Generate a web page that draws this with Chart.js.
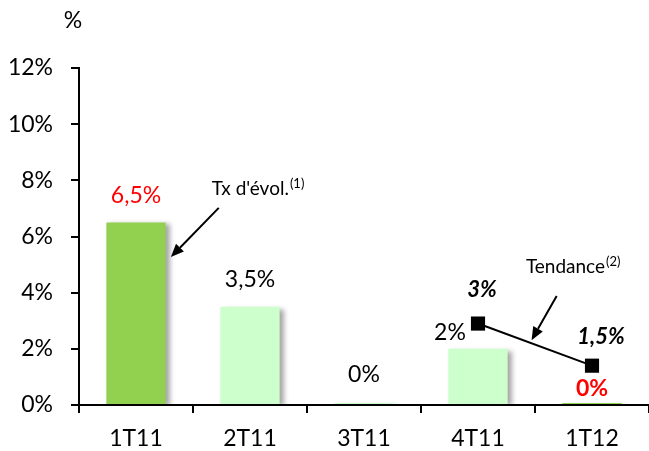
<!DOCTYPE html>
<html>
<head>
<meta charset="utf-8">
<script src="https://cdn.jsdelivr.net/npm/chart.js@4/dist/chart.umd.min.js"></script>
<style>
  html, body { margin: 0; padding: 0; background: #fff; }
  #wrap { width: 649px; height: 451px; position: relative; }
</style>
</head>
<body>
<div id="wrap"><canvas id="chart"></canvas></div>
<script>
// Data
const quarters = ['1T11', '2T11', '3T11', '4T11', '1T12'];
const growthRates = [6.5, 3.5, 0, 2, 0];
const growthLabels = ['6,5%', '3,5%', '0%', '2%', '0%'];
const trendValues = [null, null, null, 2.9, 1.4];
const trendLabels = ['', '', '', '3%', '1,5%'];
const yTicks = [0, 2, 4, 6, 8, 10, 12];

// Styles
const FONT = 'Lato, "Open Sans", sans-serif';
const barColors = ['#92D050', '#CCFFCC', '#CCFFCC', '#CCFFCC', '#92D050'];
const barLabelColors = ['#FF0000', '#000', '#000', '#000', '#FF0000'];
const barLabelBold = [false, false, false, false, true];
// offsets (px) of each bar label from the top of its bar
const barLabelOffsets = [[0, -27], [0, -27], [0, -28], [-28, -16], [0, -14]];
const trendLabelOffsets = [null, null, null, [4, -34], [9, -29]];

// Callouts, positions in scale units (category index, %)
const callouts = [
  { text: "Tx d'évol.", sup: '(1)', at: [0.665, 7.48], tail: [0.726, 7.02], tip: [0.306, 5.27] },
  { text: 'Tendance', sup: '(2)', at: [3.42, 4.70], tail: [3.69, 3.88], tip: [3.47, 2.31] }
];

// drop shadow behind the bars
const barShadow = {
  id: 'barShadow',
  beforeDatasetDraw(chart, args) {
    if (args.index !== 0) return;
    const ctx = chart.ctx;
    ctx.save();
    ctx.shadowColor = 'rgba(0,0,0,0.35)';
    ctx.shadowOffsetX = 4;
    ctx.shadowOffsetY = 2;
    ctx.shadowBlur = 5;
  },
  afterDatasetDraw(chart, args) {
    if (args.index !== 0) return;
    chart.ctx.restore();
  }
};

function drawArrow(ctx, x1, y1, x2, y2) {
  const ang = Math.atan2(y2 - y1, x2 - x1);
  const head = 13, half = 5.5;
  const bx = x2 - head * Math.cos(ang), by = y2 - head * Math.sin(ang);
  ctx.beginPath();
  ctx.moveTo(x1, y1);
  ctx.lineTo(bx, by);
  ctx.lineWidth = 2;
  ctx.strokeStyle = '#000';
  ctx.stroke();
  ctx.beginPath();
  ctx.moveTo(x2, y2);
  ctx.lineTo(bx + half * Math.sin(ang), by - half * Math.cos(ang));
  ctx.lineTo(bx - half * Math.sin(ang), by + half * Math.cos(ang));
  ctx.closePath();
  ctx.fillStyle = '#000';
  ctx.fill();
}

const labelsPlugin = {
  id: 'labels',
  afterDatasetsDraw(chart) {
    const ctx = chart.ctx;
    const xs = chart.scales.x, ys = chart.scales.y;
    ctx.save();
    ctx.textAlign = 'center';
    ctx.textBaseline = 'middle';

    // bar values
    chart.getDatasetMeta(0).data.forEach((bar, i) => {
      const off = barLabelOffsets[i];
      ctx.font = (barLabelBold[i] ? 'bold ' : '') + '23px ' + FONT;
      ctx.fillStyle = barLabelColors[i];
      ctx.fillText(growthLabels[i], bar.x + off[0], bar.y + off[1]);
    });

    // trend values
    chart.getDatasetMeta(1).data.forEach((pt, i) => {
      if (!trendLabels[i]) return;
      const off = trendLabelOffsets[i];
      ctx.font = 'italic bold 22px ' + FONT;
      ctx.fillStyle = '#000';
      ctx.fillText(trendLabels[i], pt.x + off[0], pt.y + off[1]);
    });

    // callouts
    callouts.forEach(c => {
      const px = v => xs.getPixelForValue(v);
      const py = v => ys.getPixelForValue(v);
      ctx.textAlign = 'left';
      ctx.textBaseline = 'alphabetic';
      ctx.fillStyle = '#000';
      ctx.font = '19px ' + FONT;
      const x0 = px(c.at[0]), y0 = py(c.at[1]);
      ctx.fillText(c.text, x0, y0);
      const w = ctx.measureText(c.text).width;
      ctx.font = '13px ' + FONT;
      ctx.fillText(c.sup, x0 + w + 1, y0 - 7);
      drawArrow(ctx, px(c.tail[0]), py(c.tail[1]), px(c.tip[0]), py(c.tip[1]));
    });

    // unit above the y axis
    ctx.textAlign = 'center';
    ctx.textBaseline = 'middle';
    ctx.font = '23px ' + FONT;
    ctx.fillText('%', chart.chartArea.left - 6, chart.chartArea.top - 47);
    ctx.restore();
  }
};

new Chart(document.getElementById('chart'), {
  type: 'bar',
  data: {
    labels: quarters,
    datasets: [
      {
        type: 'bar',
        data: growthRates,
        backgroundColor: barColors,
        borderWidth: 0,
        minBarLength: 2,
        categoryPercentage: 1,
        barPercentage: 0.52,
        order: 2
      },
      {
        type: 'line',
        data: trendValues,
        borderColor: '#000',
        borderWidth: 2,
        backgroundColor: '#000',
        pointStyle: 'rect',
        pointRadius: 10,
        pointBorderWidth: 0,
        spanGaps: false,
        order: 1
      }
    ]
  },
  options: {
    responsive: true,
    maintainAspectRatio: false,
    animation: false,
    layout: { autoPadding: false, padding: { top: 68, right: -4, left: 0, bottom: 0 } },
    plugins: {
      legend: { display: false },
      tooltip: { enabled: false }
    },
    scales: {
      x: {
        grid: { offset: true, drawOnChartArea: false, drawTicks: true, tickLength: 8, color: '#000', lineWidth: 2 },
        border: { color: '#000', width: 2 },
        ticks: { color: '#000', font: { family: FONT, size: 23 }, padding: 12 },
        afterFit(scale) { scale.height = 46; }
      },
      y: {
        min: 0,
        max: 12,
        afterBuildTicks(scale) { scale.ticks = yTicks.map(v => ({ value: v })); },
        grid: { drawOnChartArea: false, drawTicks: true, tickLength: 8, color: '#000', lineWidth: 2 },
        border: { color: '#000', width: 2 },
        ticks: { color: '#000', font: { family: FONT, size: 23 }, padding: 18, callback: v => v + '%' },
        afterFit(scale) { scale.width = 79; }
      }
    }
  },
  plugins: [barShadow, labelsPlugin]
});
</script>
</body>
</html>
